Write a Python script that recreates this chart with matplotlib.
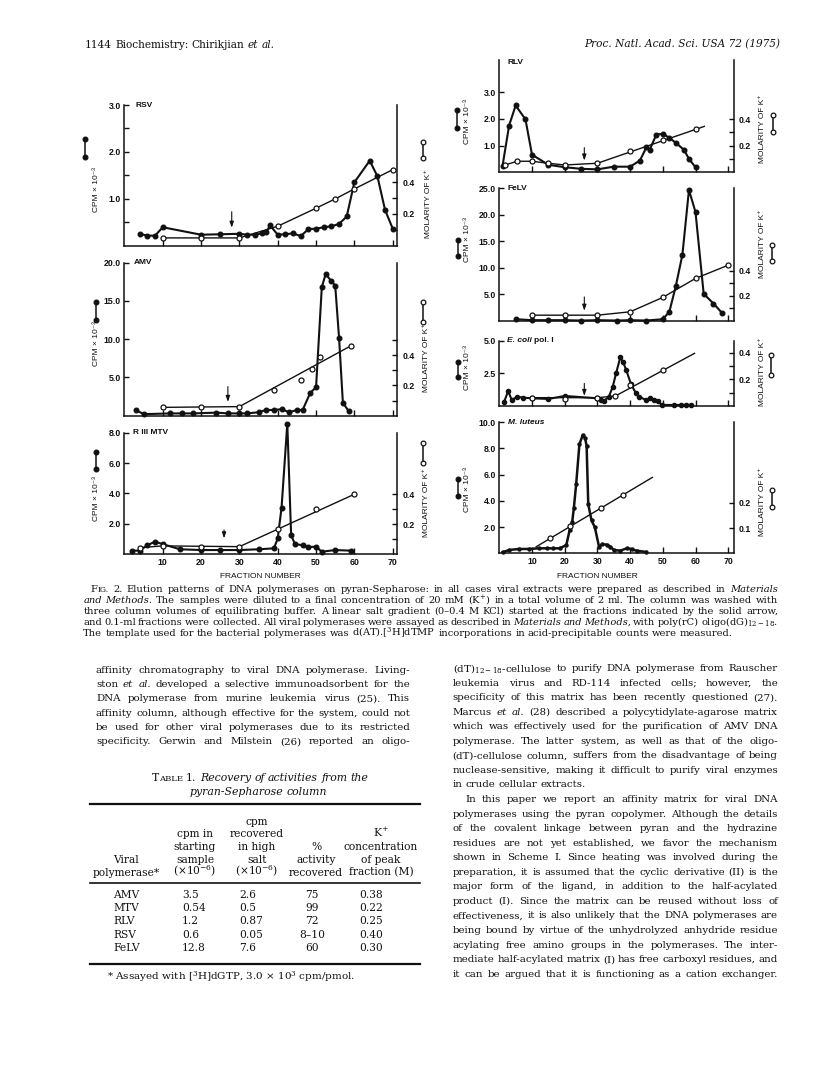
import matplotlib
matplotlib.use("Agg")
import matplotlib.pyplot as plt
from matplotlib.lines import Line2D
from matplotlib.ticker import FixedLocator, FixedFormatter

plt.rcParams["mathtext.fontset"] = "dejavuserif"

SERIF = ["DejaVu Serif"]
SANS = ["Liberation Sans", "DejaVu Sans"]
INK = "#111111"

# ---------------- data ----------------
# RSV
rsv_frac = [4, 6, 8, 10, 20, 25, 30, 32, 34, 36, 37, 38, 40, 42, 44, 46, 48, 50, 52, 54, 56, 58, 60, 64, 66, 68, 70]
rsv_cpm = [0.25, 0.21, 0.21, 0.39, 0.23, 0.24, 0.25, 0.23, 0.23, 0.26, 0.28, 0.43, 0.23, 0.24, 0.26, 0.20,
           0.35, 0.36, 0.39, 0.41, 0.46, 0.62, 1.35, 1.81, 1.48, 0.76, 0.36]
rsv_grad_frac = [10, 20, 30, 40, 50, 55, 60, 70]
rsv_grad_mol = [0.048, 0.048, 0.048, 0.122, 0.236, 0.295, 0.358, 0.48]
rsv_mol_frac = [10, 20, 30, 40, 50, 55, 60, 70]
rsv_mol = [0.048, 0.048, 0.048, 0.122, 0.236, 0.295, 0.358, 0.48]
rsv_arrow = (28, 0.72, 0.38)

# AMV
amv_frac = [3, 5, 12, 15, 18, 24, 27, 30, 32, 35, 37, 39, 41, 43, 45, 46.5, 48.5, 50, 51.5, 52.5, 54, 55, 56, 57, 58.5]
amv_cpm = [0.75, 0.2, 0.3, 0.3, 0.3, 0.4, 0.3, 0.3, 0.3, 0.45, 0.75, 0.75, 0.85, 0.45, 0.75, 0.75,
           3.0, 3.7, 16.8, 18.5, 17.6, 17.0, 10.2, 1.7, 0.6]
amv_grad_frac = [10, 30, 59]
amv_grad_mol = [0.055, 0.06, 0.46]
amv_mol_frac = [10, 20, 30, 39, 46, 49, 51, 59]
amv_mol = [0.055, 0.06, 0.06, 0.17, 0.235, 0.31, 0.385, 0.46]
amv_arrow = (27, 3.8, 1.8)

# R III MTV
mtv_frac = [2, 4, 6, 8, 10, 14.5, 20, 25, 30, 35, 39, 40, 41, 42.5, 43.5, 44.5, 46.5, 48, 50, 51.5, 55, 59]
mtv_cpm = [0.24, 0.24, 0.6, 0.83, 0.67, 0.33, 0.28, 0.28, 0.28, 0.33, 0.39, 1.04, 3.07, 8.6, 1.26,
           0.67, 0.6, 0.48, 0.5, 0.17, 0.28, 0.24]
mtv_grad_frac = [4, 10, 30, 60]
mtv_grad_mol = [0.044, 0.056, 0.051, 0.40]
mtv_mol_frac = [4, 10, 20, 30, 40, 50, 60]
mtv_mol = [0.044, 0.056, 0.051, 0.051, 0.167, 0.30, 0.40]
mtv_arrow = (26, 1.6, 1.05)

# RLV
rlv_frac = [1, 3, 5, 8, 10, 15, 20, 25, 30, 35, 40, 43, 45, 46, 48, 50, 52, 54, 56.5, 58, 60]
rlv_cpm = [0.25, 1.75, 2.5, 1.98, 0.66, 0.28, 0.19, 0.13, 0.11, 0.21, 0.21, 0.44, 0.94, 0.84, 1.41,
           1.44, 1.29, 1.10, 0.84, 0.50, 0.19]
rlv_grad_frac = [1.7, 5.5, 10, 15, 20, 30, 62.7]
rlv_grad_mol = [0.055, 0.083, 0.083, 0.068, 0.055, 0.068, 0.345]
rlv_mol_frac = [1.7, 5.5, 10, 15, 20, 30, 40, 50, 60]
rlv_mol = [0.055, 0.083, 0.083, 0.068, 0.055, 0.068, 0.16, 0.245, 0.325]
rlv_arrow = (26, 0.92, 0.44)

# FeLV
felv_frac = [5, 10, 15, 20, 25, 30, 36, 40, 45, 50, 52, 54, 56, 58, 60, 62.5, 65.5, 68]
felv_cpm = [0.3, 0.12, 0.12, 0.12, 0.05, 0.12, 0.05, 0.12, 0.05, 0.3, 1.7, 6.6, 12.5, 24.7, 20.5, 5.1, 3.25, 1.56]
felv_grad_frac = [10, 20, 30, 40, 50, 60, 70]
felv_grad_mol = [0.045, 0.045, 0.045, 0.072, 0.187, 0.339, 0.445]
felv_mol_frac = [10, 20, 30, 40, 50, 60, 70]
felv_mol = [0.045, 0.045, 0.045, 0.072, 0.187, 0.339, 0.445]
felv_arrow = (26, 4.5, 1.9)

# E. coli pol. I
eco_frac = [1.5, 2.7, 3.8, 5.5, 7.3, 10, 15, 20, 30, 31, 32, 33.5, 34.7, 35.7, 37, 37.8, 38.8, 40.3,
            41.8, 42.8, 44.8, 46.2, 47.4, 48.4, 49.7, 53.5, 55.5, 57, 58.5]
eco_cpm = [0.33, 1.15, 0.46, 0.71, 0.64, 0.59, 0.54, 0.77, 0.59, 0.46, 0.38, 0.71, 1.48, 2.5, 3.72, 3.4,
           2.76, 1.66, 0.97, 0.71, 0.46, 0.59, 0.46, 0.38, 0.08, 0.08, 0.08, 0.08, 0.08]
eco_grad_frac = [10, 30, 35.5, 59.7]
eco_grad_mol = [0.0625, 0.0625, 0.075, 0.395]
eco_mol_frac = [10, 20, 30, 35.5, 40, 50]
eco_mol = [0.0625, 0.055, 0.0625, 0.075, 0.16, 0.27]
eco_arrow = (26, 1.73, 0.77)

# M. luteus
mlu_frac = [1, 3, 6, 9, 12, 14.5, 16.5, 18.5, 20.5, 21.5, 22.3, 22.8, 23.5, 24.5, 25.5, 26.2, 26.7, 27.2,
            28.2, 29.2, 30.5, 31.5, 33, 34, 35, 37, 39, 40.5, 42, 45]
mlu_cpm = [0.08, 0.25, 0.33, 0.33, 0.38, 0.38, 0.38, 0.38, 0.63, 1.75, 2.4, 3.45, 5.25, 8.3, 9.0, 8.8,
           8.2, 3.75, 2.5, 2.0, 0.5, 0.7, 0.65, 0.5, 0.25, 0.2, 0.38, 0.3, 0.2, 0.1]
mlu_grad_frac = [11.3, 46.8]
mlu_grad_mol = [0.026, 0.30]
mlu_mol_frac = [15.6, 21.5, 31, 37.9]
mlu_mol = [0.061, 0.106, 0.18, 0.23]

# Table 1
tab_names = ["AMV", "MTV", "RLV", "RSV", "FeLV"]
tab_start = ["3.5", "0.54", "1.2", "0.6", "12.8"]
tab_recov = ["2.6", "0.5", "0.87", "0.05", "7.6"]
tab_pct = ["75", "99", "72", "8\u201310", "60"]
tab_conc = ["0.38", "0.22", "0.25", "0.40", "0.30"]

frac_ticks = [10, 20, 30, 40, 50, 60, 70]

# ---------------- figure ----------------
W, H = 816, 1081
fig = plt.figure(figsize=(W / 100, H / 100), dpi=100)
fig.patch.set_facecolor("white")
renderer = fig.canvas.get_renderer()


def fx(px):
    return px / W


def fy(py):
    return 1 - py / H


def panel(left, right, top, bottom, x0, ppf, cpm_top, mol_top,
          cpm_major, cpm_minor, mol_ticks, mol_labels, xlabels=False):
    ax = fig.add_axes([fx(left), fy(bottom), (right - left) / W, (bottom - top) / H])
    ax.set_xlim((left - x0) / ppf, (right - x0) / ppf)
    ax.set_ylim(0, cpm_top)
    ax2 = ax.twinx()
    ax2.set_ylim(0, mol_top)
    ax.patch.set_visible(False)
    for s in ("top", "right"):
        ax.spines[s].set_visible(False)
    for s in ("top", "left", "bottom"):
        ax2.spines[s].set_visible(False)
    for s in ("left", "bottom"):
        ax.spines[s].set_linewidth(1.1)
        ax.spines[s].set_color(INK)
    ax2.spines["right"].set_linewidth(1.1)
    ax2.spines["right"].set_color(INK)

    ax.set_xticks(frac_ticks)
    ax.tick_params(axis="x", direction="in", length=4.5, width=1.0, color=INK,
                   labelbottom=xlabels, pad=3, labelsize=6.3)
    ax.yaxis.set_major_locator(FixedLocator(cpm_major))
    ax.yaxis.set_major_formatter(FixedFormatter(["%.1f" % v for v in cpm_major]))
    ax.yaxis.set_minor_locator(FixedLocator(cpm_minor))
    ax.tick_params(axis="y", which="both", direction="in", length=3.6, width=1.0,
                   color=INK, pad=2.5, labelsize=6.3)
    ax2.yaxis.set_major_locator(FixedLocator(mol_ticks))
    ax2.yaxis.set_major_formatter(FixedFormatter(mol_labels))
    ax2.tick_params(axis="y", direction="in", length=3.6, width=1.0, color=INK,
                    pad=4, labelsize=6.3)
    for lab in ax.get_xticklabels() + ax.get_yticklabels() + ax2.get_yticklabels():
        lab.set_fontweight("bold")
        lab.set_family(SANS)
        lab.set_color(INK)
    return ax, ax2


def draw(ax, ax2, fr, cpm, gfr, gmol, mfr, mol, arrow=None, ms=3.3, lw=1.5):
    ax.plot(fr, cpm, "-o", color=INK, lw=lw, ms=ms, mfc=INK, mec=INK, clip_on=False, zorder=4)
    ax2.plot(gfr, gmol, "-", color=INK, lw=1.0, clip_on=False, zorder=3)
    ax2.plot(mfr, mol, "o", ms=3.6, mfc="white", mec=INK, mew=0.9, clip_on=False, zorder=5)
    if arrow is not None:
        xa, ytop, ytip = arrow
        ax.annotate("", xy=(xa, ytip), xytext=(xa, ytop),
                    arrowprops=dict(arrowstyle="-|>,head_length=0.35,head_width=0.12",
                                    color=INK, lw=0.8, shrinkA=0, shrinkB=0))


def symbol(x, y1, y2, filled):
    fig.add_artist(Line2D([fx(x), fx(x)], [fy(y1), fy(y2)], transform=fig.transFigure,
                          color=INK, lw=1.1, marker="o", ms=3.4,
                          mfc=INK if filled else "white", mec=INK, mew=0.9))


def vlabel(x, yc, s):
    fig.text(fx(x), fy(yc), s, rotation=90, ha="center", va="center", fontsize=6.0,
             family=SANS, color=INK)


def title(x, yc, parts):
    for s, st in parts:
        t = fig.text(fx(x), fy(yc), s, ha="left", va="center", fontsize=6.0, family=SANS,
                     fontweight="bold", fontstyle=st, color=INK)
        x += t.get_window_extent(renderer).width + 2.5


LX0, LPPF = 124.4, 3.833
RX0, RPPF = 499.3, 3.27
CPM = "CPM \u00d7 10\u207b\u00b3"
MOL = "MOLARITY OF K\u207a"

# RSV
ax, ax2 = panel(124.4, 397, 105, 245.5, LX0, LPPF, 3.0, 0.889, [1.0, 2.0, 3.0], [0.5, 1.5, 2.5],
                [0.1, 0.2, 0.3, 0.4], ["", "0.2", "", "0.4"])
draw(ax, ax2, rsv_frac, rsv_cpm, rsv_grad_frac, rsv_grad_mol, rsv_mol_frac, rsv_mol, rsv_arrow)
title(135, 105, [("RSV", "normal")])
symbol(85, 139, 157, True)
vlabel(96, 190, CPM)
symbol(423, 142, 158, False)
vlabel(428, 204, MOL)

# AMV
ax, ax2 = panel(124.4, 397, 262.7, 415.7, LX0, LPPF, 20.0, 1.01, [5.0, 10.0, 15.0, 20.0], [],
                [0.1, 0.2, 0.3, 0.4, 0.5], ["", "0.2", "", "0.4", ""])
draw(ax, ax2, amv_frac, amv_cpm, amv_grad_frac, amv_grad_mol, amv_mol_frac, amv_mol, amv_arrow)
title(134, 262.7, [("AMV", "normal")])
symbol(96, 302, 320, True)
vlabel(96, 343, CPM)
symbol(423, 302, 322, False)
vlabel(427, 358, MOL)

# R III MTV
ax, ax2 = panel(124.4, 397, 432.7, 554.3, LX0, LPPF, 8.0, 0.81, [2.0, 4.0, 6.0, 8.0], [],
                [0.1, 0.2, 0.3, 0.4], ["", "0.2", "", "0.4"], xlabels=True)
draw(ax, ax2, mtv_frac, mtv_cpm, mtv_grad_frac, mtv_grad_mol, mtv_mol_frac, mtv_mol, mtv_arrow)
title(133, 432.7, [("R III MTV", "normal")])
symbol(96, 452, 469, True)
vlabel(96, 498, CPM)
symbol(423, 443, 463, False)
vlabel(426, 503, MOL)
fig.text(fx(260), fy(577), "FRACTION NUMBER", ha="center", va="center", fontsize=6.0,
         family=SANS, color=INK)

# RLV
ax, ax2 = panel(499.3, 733.5, 60, 172.3, RX0, RPPF, 4.2, 0.844, [1.0, 2.0, 3.0], [],
                [0.1, 0.2, 0.3, 0.4], ["", "0.2", "", "0.4"])
draw(ax, ax2, rlv_frac, rlv_cpm, rlv_grad_frac, rlv_grad_mol, rlv_mol_frac, rlv_mol, rlv_arrow)
title(508, 62, [("RLV", "normal")])
symbol(457, 110, 128, True)
vlabel(468, 122, CPM)
symbol(773, 115, 132, False)
vlabel(762, 129, MOL)

# FeLV
ax, ax2 = panel(499.3, 733.5, 188.3, 320.8, RX0, RPPF, 25.0, 1.06, [5.0, 10.0, 15.0, 20.0, 25.0], [],
                [0.1, 0.2, 0.3, 0.4], ["", "0.2", "", "0.4"])
draw(ax, ax2, felv_frac, felv_cpm, felv_grad_frac, felv_grad_mol, felv_mol_frac, felv_mol, felv_arrow)
title(508, 188.3, [("FeLV", "normal")])
symbol(458, 240, 256, True)
vlabel(468, 240, CPM)
symbol(772, 245, 261, False)
vlabel(762, 244, MOL)

# E. coli pol. I
ax, ax2 = panel(499.3, 733.5, 340.7, 406, RX0, RPPF, 5.0, 0.49, [2.5, 5.0], [],
                [0.1, 0.2, 0.3, 0.4], ["", "0.2", "", "0.4"])
draw(ax, ax2, eco_frac, eco_cpm, eco_grad_frac, eco_grad_mol, eco_mol_frac, eco_mol, eco_arrow, ms=3.0)
title(507, 341, [("E. coli", "italic"), ("pol. I", "normal")])
symbol(458, 362, 377, True)
vlabel(468, 368, CPM)
symbol(771, 355, 375, False)
vlabel(762, 372, MOL)

# M. luteus
ax, ax2 = panel(499.3, 733.5, 422, 553.3, RX0, RPPF, 10.0, 0.519, [2.0, 4.0, 6.0, 8.0, 10.0], [],
                [0.1, 0.2], ["0.1", "0.2"], xlabels=True)
draw(ax, ax2, mlu_frac, mlu_cpm, mlu_grad_frac, mlu_grad_mol, mlu_mol_frac, mlu_mol, None, ms=2.2, lw=1.8)
title(508, 422, [("M. luteus", "italic")])
symbol(458, 479, 496, True)
vlabel(468, 489, CPM)
symbol(772, 490, 507, False)
vlabel(762, 502, MOL)
fig.text(fx(597), fy(577), "FRACTION NUMBER", ha="center", va="center", fontsize=6.0,
         family=SANS, color=INK)


# ---------------- page text ----------------
def pieces_of(word, size):
    if word.startswith("~"):
        return [(word[1:], size, "italic")]
    if word.startswith("^"):
        w = word[1:]
        return [(w[0], size, "normal"), (w[1:].upper(), size * 0.78, "normal")]
    return [(word, size, "normal")]


def build_words(words, size, base):
    objs, widths = [], []
    for w in words:
        ps, ws = [], []
        for s, sz, st in pieces_of(w, size):
            t = fig.text(0, base, s, fontsize=sz, fontstyle=st, family=SERIF,
                         ha="left", va="baseline", color=INK)
            ps.append(t)
            ws.append(t.get_window_extent(renderer).width)
        objs.append(ps)
        widths.append(ws)
    return objs, widths


def fit_size(lines, width, size, min_gap=2.6):
    # largest size (<= size) at which every justified line still fits its measure
    best = size
    for ln, x0 in lines:
        words = ln.split()
        objs, widths = build_words(words, size, 0.5)
        total = sum(sum(ws) for ws in widths)
        for ps in objs:
            for t in ps:
                t.remove()
        room = width - (x0 - lines[0][1]) - min_gap * (len(words) - 1)
        best = min(best, size * room / total)
    return best


def text_line(line, x0, x1, yc, size=8.0, justify=True, center=None):
    words = line.split()
    n = len(words)
    base = fy(yc + 0.3 * size * 100 / 72)
    objs, widths = build_words(words, size, base)
    total = sum(sum(ws) for ws in widths)
    if justify and n > 1:
        gap = (x1 - x0 - total) / (n - 1)
    else:
        gap = 0.3 * size * 100 / 72
    if center is not None:
        x0 = center - (total + gap * (n - 1)) / 2
    x = x0
    for ps, ws in zip(objs, widths):
        for t, w in zip(ps, ws):
            t.set_x(fx(x))
            x += w
        x += gap


text_line("1144      Biochemistry:  Chirikjian ~et ~al.", 85, 0, 45, 7.6, justify=False)
fig.text(fx(780), fy(45 + 2.6), "Proc. Natl. Acad. Sci. USA 72 (1975)", ha="right", va="baseline",
         fontsize=7.6, fontstyle="italic", family=SERIF, color=INK)

caption = [
    ("^FIG. 2.  Elution patterns of DNA polymerases on pyran-Sepharose: in all cases viral extracts were "
     "prepared as described in ~Materials", 90.7, True),
    ("~and ~Methods. The samples were diluted to a final concentration of 20 mM (K$^{+}$) in a total volume "
     "of 2 ml. The column was washed with", 83.3, True),
    ("three column volumes of equilibrating buffer. A linear salt gradient (0\u20130.4 M KCl) started at the "
     "fractions indicated by the solid arrow,", 83.3, True),
    ("and 0.1-ml fractions were collected. All viral polymerases were assayed as described in ~Materials "
     "~and ~Methods, with poly(rC) oligo(dG)$_{12-18}$.", 83.3, True),
    ("The template used for the bacterial polymerases was d(AT).[$^{3}$H]dTMP incorporations in "
     "acid-precipitable counts were measured.", 83.3, False),
]
cap_size = fit_size([(ln, x0 - 7.4 if i == 0 else x0) for i, (ln, x0, j) in enumerate(caption) if j],
                    778 - 83.3, 7.6)
for i, (ln, x0, j) in enumerate(caption):
    text_line(ln, x0, 778, 589 + i * 11.0, cap_size, justify=j)

left_body = [
    "affinity chromatography to viral DNA polymerase. Living-",
    "ston ~et ~al. developed a selective immunoadsorbent for the",
    "DNA polymerase from murine leukemia virus (25). This",
    "affinity column, although effective for the system, could not",
    "be used for other viral polymerases due to its restricted",
    "specificity. Gerwin and Milstein (26) reported an oligo-",
]
right_body = [
    "(dT)$_{12-18}$-cellulose to purify DNA polymerase from Rauscher",
    "leukemia virus and RD-114 infected cells; however, the",
    "specificity of this matrix has been recently questioned (27).",
    "Marcus ~et ~al. (28) described a polycytidylate-agarose matrix",
    "which was effectively used for the purification of AMV DNA",
    "polymerase. The latter system, as well as that of the oligo-",
    "(dT)-cellulose column, suffers from the disadvantage of being",
    "nuclease-sensitive, making it difficult to purify viral enzymes",
    "in crude cellular extracts.",
    "In this paper we report an affinity matrix for viral DNA",
    "polymerases using the pyran copolymer. Although the details",
    "of the covalent linkage between pyran and the hydrazine",
    "residues are not yet established, we favor the mechanism",
    "shown in Scheme I. Since heating was involved during the",
    "preparation, it is assumed that the cyclic derivative (II) is the",
    "major form of the ligand, in addition to the half-acylated",
    "product (I). Since the matrix can be reused without loss of",
    "effectiveness, it is also unlikely that the DNA polymerases are",
    "being bound by virtue of the unhydrolyzed anhydride residue",
    "acylating free amino groups in the polymerases. The inter-",
    "mediate half-acylated matrix (I) has free carboxyl residues, and",
    "it can be argued that it is functioning as a cation exchanger.",
]
body_size = min(fit_size([(ln, 96) for ln in left_body], 410 - 96, 8.2),
                fit_size([(ln, 452.7) for i, ln in enumerate(right_body) if i not in (8, 9)], 778 - 452.7, 8.2))
for i, ln in enumerate(left_body):
    text_line(ln, 96, 410, 670 + i * 14.2, body_size)
for i, ln in enumerate(right_body):
    x0 = 465 if i == 9 else 452.7
    text_line(ln, x0, 778, 668 + i * 14.55, body_size, justify=(i != 8))

# Table 1
text_line("^TABLE 1.   ~Recovery ~of ~activities ~from ~the", 0, 0, 778, 7.8, justify=False, center=260)
text_line("~pyran-Sepharose ~column", 0, 0, 792, 7.8, justify=False, center=258)
for yr, lw in ((804, 1.6), (883, 1.2), (964, 1.6)):
    fig.add_artist(Line2D([fx(90), fx(420)], [fy(yr), fy(yr)], transform=fig.transFigure,
                          color=INK, lw=lw))

col_c = [126, 195, 257, 316, 381]
header = [
    (822, [None, None, "cpm", None, None]),
    (834, [None, "cpm in", "recovered", None, "K$^{+}$"]),
    (847, [None, "starting", "in high", "%", "concentration"]),
    (860, ["Viral", "sample", "salt", "activity", "of peak"]),
    (873, ["polymerase*", "(\u00d710$^{-6}$)", "(\u00d710$^{-6}$)", "recovered", "fraction (M)"]),
]
for yc, cells in header:
    for cx, s in zip(col_c, cells):
        if s:
            fig.text(fx(cx), fy(yc + 2.6), s, ha="center", va="baseline", fontsize=7.7,
                     family=SERIF, color=INK)

for i in range(len(tab_names)):
    yb = fy(895 + i * 13.3 + 2.6)
    fig.text(fx(113), yb, tab_names[i], ha="left", va="baseline", fontsize=7.7, family=SERIF, color=INK)
    fig.text(fx(182), yb, tab_start[i], ha="left", va="baseline", fontsize=7.7, family=SERIF, color=INK)
    fig.text(fx(239), yb, tab_recov[i], ha="left", va="baseline", fontsize=7.7, family=SERIF, color=INK)
    fig.text(fx(312), yb, tab_pct[i], ha="center", va="baseline", fontsize=7.7, family=SERIF, color=INK)
    fig.text(fx(359), yb, tab_conc[i], ha="left", va="baseline", fontsize=7.7, family=SERIF, color=INK)

fig.text(fx(107), fy(977 + 2.6), "* Assayed with [$^{3}$H]dGTP, 3.0 \u00d7 10$^{3}$ cpm/pmol.",
         ha="left", va="baseline", fontsize=7.5, family=SERIF, color=INK)

fig.savefig("out.png", dpi=100, facecolor="white")
